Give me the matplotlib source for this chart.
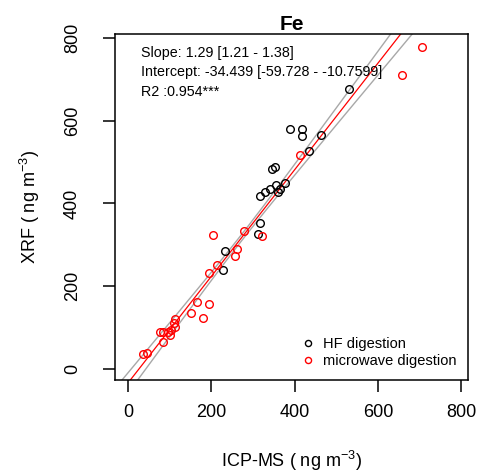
import numpy as np
import matplotlib
matplotlib.use('Agg')
import matplotlib.pyplot as plt

plt.rcParams['font.family'] = ['Liberation Sans', 'DejaVu Sans']
plt.rcParams['mathtext.default'] = 'regular'

# HF digestion (ICP-MS, XRF)
hf_x = [530, 390, 417, 417, 463, 434, 346, 354, 317, 329, 341, 356, 364, 376, 361, 316, 311, 233, 229]
hf_y = [677, 580, 580, 564, 566, 526, 484, 488, 419, 427, 434, 444, 434, 450, 428, 352, 327, 284, 240]

# microwave digestion
mw_x = [706, 658, 412, 322, 205, 278, 262, 258, 213, 195, 166, 195, 151, 181, 112, 110,
        77, 85, 96, 104, 113, 101, 85, 37, 45]
mw_y = [779, 710, 518, 322, 323, 333, 289, 274, 252, 231, 162, 158, 134, 124, 120, 110,
        90, 88, 90, 95, 101, 82, 65, 35, 39]

# fit results as printed on the chart
slope, slope_lo, slope_hi = 1.29, 1.21, 1.38
icpt, icpt_lo, icpt_hi = -34.439, -59.728, -10.7599
r2 = 0.954

ticks = [0, 200, 400, 600, 800]

fig = plt.figure(figsize=(4.8, 4.72), dpi=100)
ax = fig.add_axes([115 / 480, 1 - 380 / 472, 353 / 480, 346 / 472])
ax.set_xlim(-31, 816)
ax.set_ylim(-27, 810)

# regression line and confidence band
xs = np.linspace(-31, 816, 200)
xbar = np.mean(hf_x + mw_x)
hb = (slope_hi - slope_lo) / 2
ha = (icpt_hi - icpt_lo) / 2
h0sq = max(ha ** 2 - (xbar * hb) ** 2, 0)
half = np.sqrt(h0sq + ((xs - xbar) * hb) ** 2)
fit = icpt + slope * xs
ax.plot(xs, fit + half, color='#a8a8a8', lw=1)
ax.plot(xs, fit - half, color='#a8a8a8', lw=1)
ax.plot(xs, fit, color='red', lw=0.9)

ax.plot(hf_x, hf_y, 'o', mfc='none', mec='black', ms=5.5, mew=1, label='HF digestion')
ax.plot(mw_x, mw_y, 'o', mfc='none', mec='red', ms=5.5, mew=1, label='microwave digestion')

ax.set_xticks(ticks)
ax.set_yticks(ticks)
ax.tick_params(length=8.6, width=1.1, labelsize=13, direction='out')
ax.tick_params(axis='x', pad=9)
ax.tick_params(axis='y', pad=16, labelrotation=90)
for lab in ax.get_yticklabels():
    lab.set_va('center')
for s in ax.spines.values():
    s.set_linewidth(1.1)

ax.set_xlabel('ICP-MS ( ng m$^{-3}$)', fontsize=13, labelpad=20)
ax.set_ylabel('XRF ( ng m$^{-3}$)', fontsize=13, labelpad=16)
ax.set_title('Fe', fontsize=15, fontweight='bold', pad=1)

tf = ax.transAxes
ax.text(0.074, 0.945, f'Slope: {slope} [{slope_lo} - {slope_hi}]', transform=tf,
        fontsize=10.3, va='center')
ax.text(0.074, 0.890, f'Intercept: {icpt} [{icpt_lo} - {icpt_hi}]', transform=tf,
        fontsize=10.3, va='center')
ax.text(0.074, 0.832, f'R2 :{r2}***', transform=tf, fontsize=10.3, va='center')

ax.legend(loc='lower right', frameon=False, fontsize=10.5, handlelength=0.6,
          handletextpad=0.7, labelspacing=0.2, borderaxespad=0.4, markerscale=0.8)

fig.savefig('out.png', dpi=100)
